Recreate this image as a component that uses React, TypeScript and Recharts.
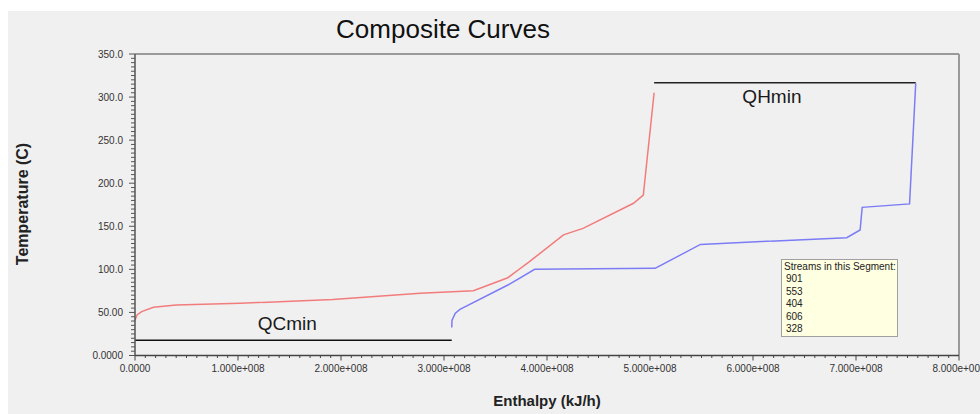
import React from 'react';
import { LineChart, Line, XAxis, YAxis, ReferenceLine } from 'recharts';

// Hot composite curve (red)
const hotEnthalpy = [0, 0.02e8, 0.065e8, 0.18e8, 0.40e8, 1.02e8, 1.92e8, 2.77e8, 3.285e8, 3.62e8, 3.83e8, 4.16e8, 4.35e8, 4.84e8, 4.935e8, 5.04e8];
const hotTemp = [41, 47, 51, 56, 58.6, 60.6, 65, 72.2, 75.2, 90.3, 109, 140, 147.6, 176.7, 186.3, 305];

// Cold composite curve (blue)
const coldEnthalpy = [3.075e8, 3.078e8, 3.11e8, 3.155e8, 3.62e8, 3.88e8, 5.05e8, 5.49e8, 6.91e8, 7.04e8, 7.06e8, 7.52e8, 7.58e8];
const coldTemp = [32.5, 41, 49, 53.6, 81.8, 100, 101.2, 129, 136.8, 145.7, 172, 176, 316];

// Minimum utility bars
const qcMinEnthalpy = [0, 3.075e8];
const qcMinTemp = 17.6;
const qhMinEnthalpy = [5.04e8, 7.58e8];
const qhMinTemp = 316.7;

// Axis ticks
const yMajorTicks = [0, 50, 100, 150, 200, 250, 300, 350];
const yTickLabels = ['0.0000', '50.00', '100.0', '150.0', '200.0', '250.0', '300.0', '350.0'];
const xMajorTicks = [0, 1e8, 2e8, 3e8, 4e8, 5e8, 6e8, 7e8, 8e8];
const xTickLabels = ['0.0000', '1.000e+008', '2.000e+008', '3.000e+008', '4.000e+008', '5.000e+008', '6.000e+008', '7.000e+008', '8.000e+008'];
const yAllTicks = Array.from({ length: 71 }, (_, i) => i * 5);
const xAllTicks = Array.from({ length: 81 }, (_, i) => i * 1e7);

const streamIds = ['901', '553', '404', '606', '328'];

const hotData = hotEnthalpy.map((h, i) => ({ h, t: hotTemp[i] }));
const coldData = coldEnthalpy.map((h, i) => ({ h, t: coldTemp[i] }));

const FONT = '"Liberation Sans", Arial, sans-serif';

const XTick = (props: any) => {
  const { x, y, payload } = props;
  const idx = xMajorTicks.indexOf(payload.value);
  const major = idx >= 0;
  return (
    <g>
      <line x1={x} x2={x} y1={y} y2={y + (major ? 5 : 2.5)} stroke="#444" strokeWidth={1} />
      {major && (
        <text x={x} y={y + 13} dy="0.35em" textAnchor="middle" fontSize={10} fill="#333" fontFamily={FONT}>
          {xTickLabels[idx]}
        </text>
      )}
    </g>
  );
};

const YTick = (props: any) => {
  const { x, y, payload } = props;
  const idx = yMajorTicks.indexOf(payload.value);
  const major = idx >= 0;
  return (
    <g>
      <line x1={x - (major ? 6 : 4)} x2={x} y1={y} y2={y} stroke="#555" strokeWidth={1} />
      {major && (
        <text x={x - 12} y={y} dy="0.35em" textAnchor="end" fontSize={10} fill="#333" fontFamily={FONT}>
          {yTickLabels[idx]}
        </text>
      )}
    </g>
  );
};

const segLabel = (text: string, above: boolean, shift: number) => (props: any) => {
  const vb = props.viewBox || {};
  const cx = (vb.x || 0) + (vb.width || 0) / 2 + shift;
  const y = vb.y || 0;
  return (
    <text
      x={cx}
      y={above ? y - 10 : y + 20}
      textAnchor="middle"
      fontSize={19}
      fill="#1a1a1a"
      fontFamily={FONT}
    >
      {text}
    </text>
  );
};

export default function App() {
  return (
    <div style={{ position: 'fixed', left: 8, top: 11, width: 972, height: 403, background: '#f0f0f0', fontFamily: FONT }}>
      <LineChart width={972} height={403} margin={{ top: 43, right: 21, bottom: 0, left: 0 }}>
        <XAxis
          type="number"
          dataKey="h"
          domain={[0, 8e8]}
          ticks={xAllTicks}
          interval={0}
          tickSize={0}
          tickMargin={0}
          tickLine={false}
          tick={XTick}
          height={58.5}
          axisLine={{ stroke: '#444', strokeWidth: 1.5 }}
          allowDataOverflow
        />
        <YAxis
          type="number"
          dataKey="t"
          domain={[0, 350]}
          ticks={yAllTicks}
          interval={0}
          tickSize={0}
          tickMargin={0}
          tickLine={false}
          tick={YTick}
          width={127}
          axisLine={{ stroke: '#555', strokeWidth: 1.5 }}
          allowDataOverflow
        />
        <ReferenceLine y={350} stroke="#9a9a9a" strokeWidth={2} />
        <ReferenceLine x={8e8} stroke="#9a9a9a" strokeWidth={2} />
        <ReferenceLine
          segment={[{ x: qcMinEnthalpy[0], y: qcMinTemp }, { x: qcMinEnthalpy[1], y: qcMinTemp }]}
          stroke="#111"
          strokeWidth={1.5}
          label={segLabel('QCmin', true, -6)}
        />
        <ReferenceLine
          segment={[{ x: qhMinEnthalpy[0], y: qhMinTemp }, { x: qhMinEnthalpy[1], y: qhMinTemp }]}
          stroke="#222"
          strokeWidth={1.5}
          label={segLabel('QHmin', false, -13)}
        />
        <Line data={hotData} dataKey="t" type="linear" stroke="#f27c7c" strokeWidth={1.5} dot={false} isAnimationActive={false} />
        <Line data={coldData} dataKey="t" type="linear" stroke="#7c7cf6" strokeWidth={1.5} dot={false} isAnimationActive={false} />
      </LineChart>
      <svg width={972} height={403} style={{ position: 'absolute', left: 0, top: 0, pointerEvents: 'none' }}>
        <text x={435} y={27} textAnchor="middle" fontSize={26} fill="#111" fontFamily={FONT}>Composite Curves</text>
        <text x={14} y={193} transform="rotate(-90 14 193)" textAnchor="middle" dominantBaseline="central" fontSize={16} fontWeight="bold" fill="#222" fontFamily={FONT}>Temperature (C)</text>
        <text x={539} y={389} textAnchor="middle" dominantBaseline="central" fontSize={15} fontWeight="bold" fill="#222" fontFamily={FONT}>Enthalpy (kJ/h)</text>
      </svg>
      <div
        style={{
          position: 'absolute',
          left: 773,
          top: 248,
          width: 113,
          height: 75,
          background: '#ffffe1',
          border: '1px solid #a0a0a0',
          fontSize: 10,
          lineHeight: '12.4px',
          color: '#222',
          paddingTop: 1,
          paddingLeft: 2,
          boxSizing: 'content-box',
        }}
      >
        <div>Streams in this Segment:</div>
        {streamIds.map((s) => (
          <div key={s} style={{ paddingLeft: 2 }}>{s}</div>
        ))}
      </div>
    </div>
  );
}
